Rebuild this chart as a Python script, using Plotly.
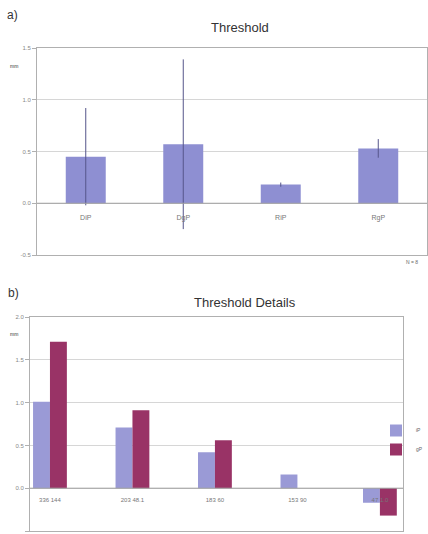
import plotly.graph_objects as go

# Panel a data
cats_a = ["DiP", "DgP", "RiP", "RgP"]
vals_a = [0.45, 0.57, 0.18, 0.53]
err_a = [0.47, 0.82, 0.02, 0.09]

# Panel b data
cats_b = ["336 144", "203 48.1", "183 60", "153 90", "47 1.0"]
series_b1_name = "iP"
series_b2_name = "gP"
vals_b1 = [1.01, 0.71, 0.42, 0.16, -0.17]
vals_b2 = [1.71, 0.91, 0.56, 0.0, -0.32]

ticks_a = [-0.5, 0.0, 0.5, 1.0, 1.5]
ticks_b = [-0.5, 0.0, 0.5, 1.0, 1.5, 2.0]

W, H = 428, 534
def px(x): return x / W
def py(y): return 1 - y / H

fig = go.Figure()

fig.add_trace(go.Bar(
    x=list(range(len(cats_a))), y=vals_a, xaxis="x", yaxis="y",
    marker=dict(color="#8e8fd2", line=dict(width=0)),
    error_y=dict(type="data", array=err_a, color="#55558a", thickness=1, width=0),
    showlegend=False, hoverinfo="skip"))
fig.add_trace(go.Scatter(
    x=list(range(len(cats_a))), y=[-0.145] * len(cats_a), text=cats_a, mode="text",
    textfont=dict(size=7, color="#777777", family="Arial"), xaxis="x", yaxis="y",
    showlegend=False, hoverinfo="skip"))

fig.add_trace(go.Bar(
    x=list(range(len(cats_b))), y=vals_b1, name=series_b1_name, xaxis="x2", yaxis="y2",
    marker=dict(color="#9a9ad6", line=dict(width=0)), hoverinfo="skip"))
fig.add_trace(go.Bar(
    x=list(range(len(cats_b))), y=vals_b2, name=series_b2_name, xaxis="x2", yaxis="y2",
    marker=dict(color="#993366", line=dict(width=0)), hoverinfo="skip"))
fig.add_trace(go.Scatter(
    x=list(range(len(cats_b))), y=[-0.14] * len(cats_b), text=cats_b, mode="text",
    textfont=dict(size=6, color="#777777", family="Arial"), xaxis="x2", yaxis="y2",
    showlegend=False, hoverinfo="skip"))

axis_common = dict(showline=True, linecolor="#b0b0b0", linewidth=1, mirror=True,
                   gridcolor="#d6d6d6", gridwidth=1, zeroline=False)

fig.update_layout(
    width=W, height=H,
    margin=dict(l=0, r=0, t=0, b=0, autoexpand=False),
    paper_bgcolor="white", plot_bgcolor="white",
    barmode="group",
    bargap=0.59,
    font=dict(family="Arial", color="#555555"),
    xaxis=dict(domain=[px(37), px(427)], anchor="y", range=[-0.5, 3.5],
               showticklabels=False, ticks="", showgrid=False, **axis_common),
    yaxis=dict(domain=[py(255), py(48)], anchor="x", range=[-0.5, 1.5],
               tickvals=ticks_a, ticktext=[f"{t:.1f}" for t in ticks_a],
               ticks="outside", ticklen=4, tickcolor="#b0b0b0",
               tickfont=dict(size=6, color="#888888"), showgrid=True, **axis_common),
    xaxis2=dict(domain=[px(30), px(403)], anchor="y2", range=[-0.242, 4.28],
                showticklabels=False, ticks="", showgrid=False, **axis_common),
    yaxis2=dict(domain=[py(531), py(317)], anchor="x2", range=[-0.5, 2.0],
                tickvals=ticks_b, ticktext=[f"{t:.1f}" for t in ticks_b],
                ticks="outside", ticklen=4, tickcolor="#b0b0b0",
                tickfont=dict(size=6, color="#888888"), showgrid=True, **axis_common),
    legend=dict(x=px(376), y=py(416), xanchor="left", yanchor="top",
                font=dict(size=5, color="#666666"), bgcolor="rgba(0,0,0,0)",
                borderwidth=0, tracegroupgap=0, itemwidth=30),
)

# zero lines
fig.add_shape(type="line", xref="x domain", yref="y", x0=0, x1=1, y0=0, y1=0,
              line=dict(color="#a0a0a0", width=1))
fig.add_shape(type="line", xref="x2 domain", yref="y2", x0=0, x1=1, y0=0, y1=0,
              line=dict(color="#a0a0a0", width=1))

ann = [
    dict(text="a)", x=px(12), y=py(15), font=dict(size=12, color="#333333")),
    dict(text="Threshold", x=px(240), y=py(27), font=dict(size=13, color="#333333")),
    dict(text="mm", x=px(14), y=py(66), font=dict(size=5, color="#333333")),
    dict(text="N = 8", x=px(412), y=py(262), font=dict(size=5, color="#666666")),
    dict(text="b)", x=px(13), y=py(293), font=dict(size=12, color="#333333")),
    dict(text="Threshold Details", x=px(245), y=py(302), font=dict(size=13, color="#333333")),
    dict(text="mm", x=px(14), y=py(334), font=dict(size=5, color="#333333")),
]
for a in ann:
    fig.add_annotation(xref="paper", yref="paper", showarrow=False,
                       xanchor="center", yanchor="middle", **a)

fig.write_html("out.html", config={"displayModeBar": False},
               post_script="document.body.style.margin='0';document.body.style.overflow='hidden';")
